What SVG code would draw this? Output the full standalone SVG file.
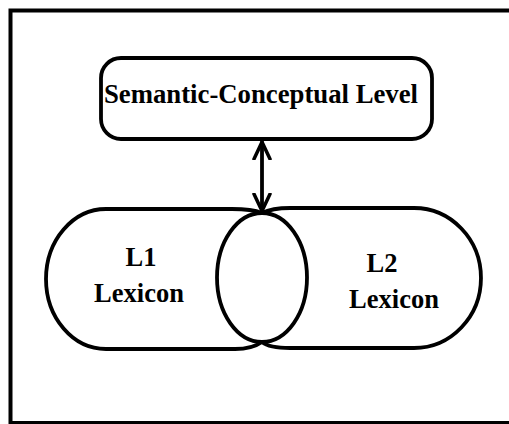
<svg xmlns="http://www.w3.org/2000/svg" width="509" height="424" viewBox="0 0 509 424">
<style>
.s{fill:none;stroke:#000;stroke-width:3.8;stroke-linejoin:round;stroke-linecap:round}
.t{font-family:"Liberation Serif","Times New Roman",serif;font-weight:bold;font-size:26.5px;fill:#000;text-anchor:middle}
</style>
<defs>
<marker id="ah" viewBox="0 0 20 20" refX="18" refY="10" markerWidth="20" markerHeight="20" markerUnits="userSpaceOnUse" orient="auto-start-reverse">
<path d="M1,2 L18,10 L1,18" fill="none" stroke="#000" stroke-width="3.5" stroke-linecap="round" stroke-linejoin="round"/>
</marker>
</defs>
<rect width="509" height="424" fill="#fff"/>
<g id="frame">
<path d="M10.5,424 V10.5 H509" fill="none" stroke="#000" stroke-width="4"/>
<path d="M10,422.5 H509" fill="none" stroke="#000" stroke-width="3"/>
</g>
<g id="semantic">
<rect class="s" x="101" y="58" width="331" height="81" rx="20" ry="20"/>
<text class="t" x="261" y="103" textLength="314" lengthAdjust="spacingAndGlyphs">Semantic-Conceptual Level</text>
</g>
<g id="l1">
<path class="s" d="M262,213 C252,209 242,209 232,209 H106 A60,70 0 0 0 106,349 H235 C246,349 255,347 262,342 A45,64.5 0 0 0 262,213 Z"/>
<text class="t" x="141" y="266">L1</text>
<text class="t" x="139" y="302">Lexicon</text>
</g>
<g id="l2">
<path class="s" d="M262,213 C270,209 280,208 290,208 H414 A67,70 0 0 1 414,348 H290 C278,348 268,347 262,342 A45,64.5 0 0 1 262,213 Z"/>
<text class="t" x="382" y="272">L2</text>
<text class="t" x="394" y="308">Lexicon</text>
</g>
<g id="connectors">
<line class="s" x1="262" y1="142" x2="262" y2="211" marker-start="url(#ah)" marker-end="url(#ah)"/>
</g>
</svg>
